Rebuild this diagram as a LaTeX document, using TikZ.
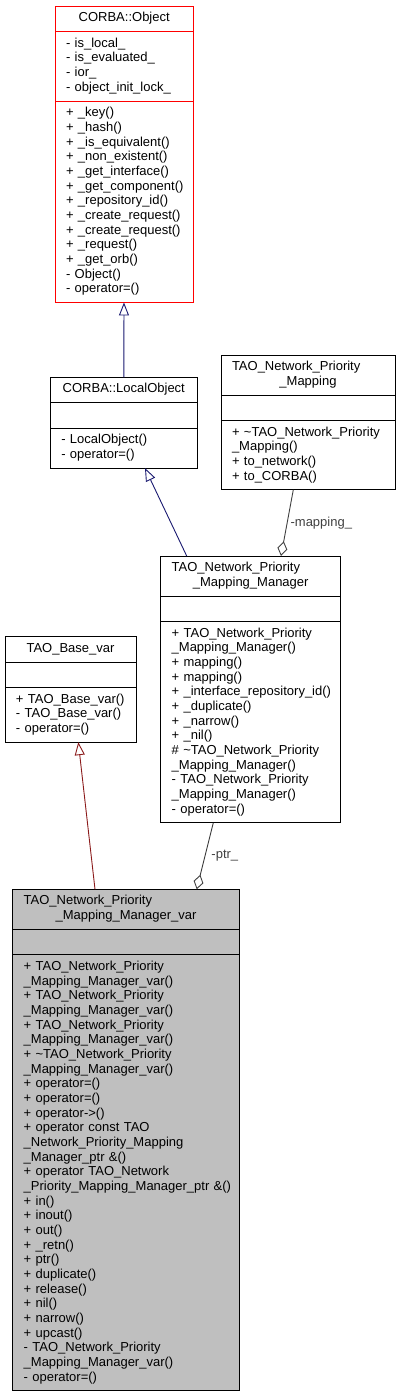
\documentclass[tikz,border=0pt]{standalone}
\usepackage{fontspec}
\setmainfont{Liberation Sans}
\usetikzlibrary{positioning,arrows.meta}
\definecolor{pubblue}{HTML}{191970}
\definecolor{privred}{HTML}{8B1A1A}
\definecolor{usegrey}{HTML}{404040}
\definecolor{varfill}{HTML}{BFBFBF}
\begin{document}
\begin{tikzpicture}[x=1pt,y=-1pt,
    member/.style={draw, line width=.8pt, inner xsep=11pt, inner ysep=0pt, outer sep=0pt,
      align=left, font={\fontsize{13}{14.67}\selectfont\hyphenpenalty=10000\relax},
      execute at begin node=\strut, execute at end node=\strut},
    title/.style={align=center},
    rows/.style={minimum height=#1*14.67pt+10.7pt},
    inherit/.style={line width=.9pt, -{Triangle[open,length=13pt,width=10pt]}},
    uses/.style={usegrey, line width=.9pt, {Diamond[open,length=15pt,width=10pt]}-},
    lbl/.style={font=\fontsize{13}{14.67}\selectfont, inner sep=3pt, right, pos=.5}]
  \useasboundingbox (0,0) rectangle (400,1397);
  % CORBA::Object
  \begin{scope}[every node/.style={member, text width=116.3pt, draw=red}]
    \node[title, rows=1, anchor=north] (objT) at (124.2,6.3) {CORBA::Object};
    \node[rows=4, below=0pt of objT] (objA) {-~is\_local\_\\-~is\_evaluated\_\\-~ior\_\\-~object\_init\_lock\_};
    \node[rows=13, below=0pt of objA] (objM) {+~\_key()\\+~\_hash()\\+~\_is\_equivalent()\\+~\_non\_existent()\\+~\_get\_interface()\\+~\_get\_component()\\+~\_repository\_id()\\+~\_create\_request()\\+~\_create\_request()\\+~\_request()\\+~\_get\_orb()\\-~Object()\\-~operator=()};
  \end{scope}
  % CORBA::LocalObject
  \begin{scope}[every node/.style={member, text width=125pt}]
    \node[title, rows=1, anchor=north] (loT) at (123.8,377.3) {CORBA::LocalObject};
    \node[rows=1, below=0pt of loT] (loA) {};
    \node[rows=2, below=0pt of loA] (loM) {-~LocalObject()\\-~operator=()};
  \end{scope}
  % TAO_Network_Priority_Mapping
  \begin{scope}[every node/.style={member, text width=152pt}]
    \node[title, rows=2, anchor=north] (mapT) at (308,355) {\makebox[\hsize][l]{TAO\_Network\_Priority}\\\_Mapping};
    \node[rows=1, below=0pt of mapT] (mapA) {};
    \node[rows=4, below=0pt of mapA] (mapM) {+~\textasciitilde TAO\_Network\_Priority\\\_Mapping()\\+~to\_network()\\+~to\_CORBA()};
  \end{scope}
  % TAO_Network_Priority_Mapping_Manager
  \begin{scope}[every node/.style={member, text width=158pt}]
    \node[title, rows=2, anchor=north] (mgrT) at (250.7,556) {\makebox[\hsize][l]{TAO\_Network\_Priority}\\\_Mapping\_Manager};
    \node[rows=1, below=0pt of mgrT] (mgrA) {};
    \node[rows=13, below=0pt of mgrA] (mgrM) {+~TAO\_Network\_Priority\\\_Mapping\_Manager()\\+~mapping()\\+~mapping()\\+~\_interface\_repository\_id()\\+~\_duplicate()\\+~\_narrow()\\+~\_nil()\\\#~\textasciitilde TAO\_Network\_Priority\\\_Mapping\_Manager()\\-~TAO\_Network\_Priority\\\_Mapping\_Manager()\\-~operator=()};
  \end{scope}
  % TAO_Base_var
  \begin{scope}[every node/.style={member, text width=109pt}]
    \node[title, rows=1, anchor=north] (baseT) at (70.5,636.7) {TAO\_Base\_var};
    \node[rows=1, below=0pt of baseT] (baseA) {};
    \node[rows=3, below=0pt of baseA] (baseM) {+~TAO\_Base\_var()\\-~TAO\_Base\_var()\\-~operator=()};
  \end{scope}
  % TAO_Network_Priority_Mapping_Manager_var
  \begin{scope}[every node/.style={member, text width=204.6pt, fill=varfill}]
    \node[title, rows=2, anchor=north] (varT) at (126,889.3) {\makebox[\hsize][l]{TAO\_Network\_Priority}\\\_Mapping\_Manager\_var};
    \node[rows=1, below=0pt of varT] (varA) {};
    \node[rows=29, below=0pt of varA] (varM) {+~TAO\_Network\_Priority\\\_Mapping\_Manager\_var()\\+~TAO\_Network\_Priority\\\_Mapping\_Manager\_var()\\+~TAO\_Network\_Priority\\\_Mapping\_Manager\_var()\\+~\textasciitilde TAO\_Network\_Priority\\\_Mapping\_Manager\_var()\\+~operator=()\\+~operator=()\\+~operator->()\\+~operator const TAO\\\_Network\_Priority\_Mapping\\\_Manager\_ptr~\&()\\+~operator TAO\_Network\\\_Priority\_Mapping\_Manager\_ptr~\&()\\+~in()\\+~inout()\\+~out()\\+~\_retn()\\+~ptr()\\+~duplicate()\\+~release()\\+~nil()\\+~narrow()\\+~upcast()\\-~TAO\_Network\_Priority\\\_Mapping\_Manager\_var()\\-~operator=()};
  \end{scope}
  \draw[inherit, pubblue] (loT) -- (objM);
  \draw[inherit, pubblue] ([xshift=-64pt]mgrT.north) -- ([xshift=21.2pt]loM.south);
  \draw[uses] ([xshift=30.3pt]mgrT.north) -- ([xshift=-14.7pt]mapM.south) node[lbl] {-mapping\_};
  \draw[inherit, privred] ([xshift=-31pt]varT.north) -- ([xshift=7.8pt]baseM.south);
  \draw[uses] ([xshift=70.7pt]varT.north) -- ([xshift=-37.4pt]mgrM.south) node[lbl, xshift=3pt] {-ptr\_};
\end{tikzpicture}
\end{document}
